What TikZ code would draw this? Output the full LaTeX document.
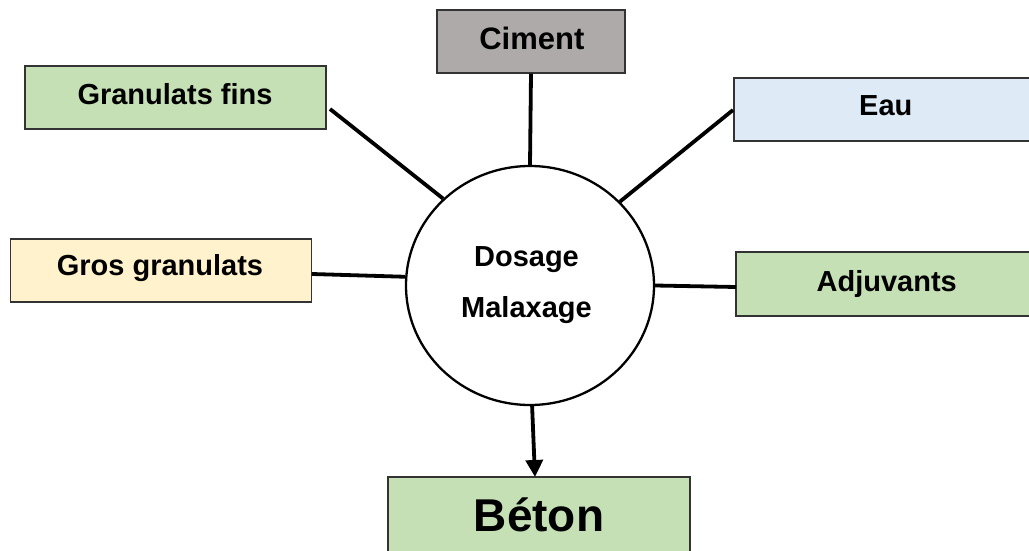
\documentclass[tikz,border=0pt]{standalone}
\usepackage{fontspec}
\setmainfont{Liberation Sans}
\usetikzlibrary{arrows.meta,shapes.geometric}
\definecolor{cgray}{HTML}{AEAAAA}
\definecolor{cgreen}{HTML}{C5E0B4}
\definecolor{cblue}{HTML}{DEEBF7}
\definecolor{cyellow}{HTML}{FFF2CC}
\definecolor{cborder}{HTML}{333333}
\begin{document}
\begin{tikzpicture}[x=1pt,y=-1pt,
  box/.style={draw=cborder,line width=1.3pt,rectangle,inner sep=0pt,minimum width=301pt,minimum height=63pt},
  lbl/.style={anchor=base,inner sep=0pt,font=\fontsize{29}{34}\selectfont\bfseries},
  conn/.style={line width=3.8pt,black}]
\useasboundingbox (0,0) rectangle (1029,551);
% boxes
\node[box,fill=cgray,minimum width=188pt] (ciment) at (531,41.5) {};
\node[box,fill=cgreen] (gf) at (175.5,97.5) {};
\node[box,fill=cblue,minimum width=302pt] (eau) at (885,109.5) {};
\node[box,fill=cyellow] (gg) at (161,270.5) {};
\node[box,fill=cgreen,minimum width=302pt,minimum height=64pt] (adj) at (887,284) {};
\node[box,fill=cgreen,minimum width=302pt,minimum height=80pt] (beton) at (539,517) {};
% central ellipse
\node[draw=black,line width=2.3pt,fill=white,ellipse,inner sep=0pt,minimum width=248pt,minimum height=239pt] (mix) at (530,285.5) {};
% texts
\node[lbl,font=\fontsize{31}{36}\selectfont\bfseries] (tciment) at (531.8,49.3) {Ciment};
\node[lbl] (tgf) at (175,105) {Granulats fins};
\node[lbl] (teau) at (885.8,115.7) {Eau};
\node[lbl] (tgg) at (160,275.7) {Gros granulats};
\node[lbl] (tadj) at (886.7,291.7) {Adjuvants};
\node[lbl,font=\fontsize{46}{52}\selectfont\bfseries] (tbeton) at (539,531.7) {Béton};
\node[lbl] (tdos) at (526.5,266) {Dosage};
\node[lbl] (tmal) at (526.5,317.3) {Malaxage};
% connector end points
\coordinate (gfout) at (330,109);
\coordinate (eauout) at (733,110);
\coordinate (ggout) at (312,274);
\coordinate (adjin) at (736,287);
\coordinate (betonin) at (535,477);
% connectors
\draw[conn] (ciment.south) -- (mix.north);
\draw[conn] (gfout) -- (mix.135);
\draw[conn] (eauout) -- (mix.43);
\draw[conn] (ggout) -- (mix.176.6);
\draw[conn] (adjin) -- (mix.0);
\draw[conn,-{Triangle[length=17pt,width=17pt]}] (mix.271) -- (betonin);
\end{tikzpicture}
\end{document}
